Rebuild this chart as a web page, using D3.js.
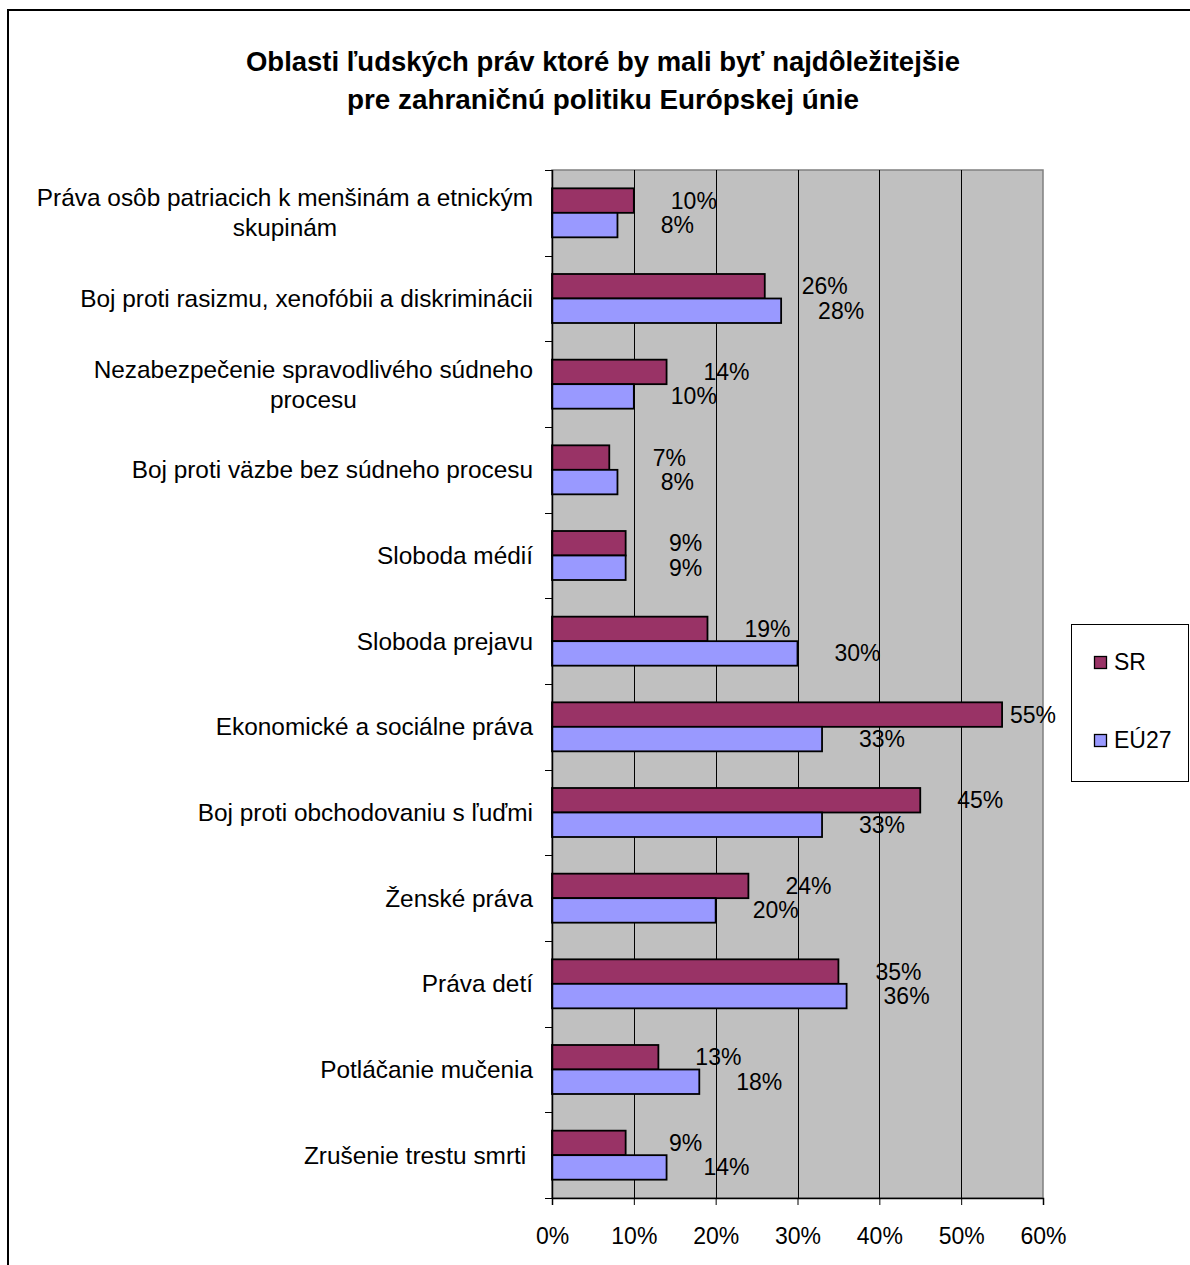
<!DOCTYPE html>
<html>
<head>
<meta charset="utf-8">
<script src="https://cdn.jsdelivr.net/npm/d3@7"></script>
<style>
  body { margin: 0; background: #fff; }
  svg text { font-family: "Liberation Sans", Arial, sans-serif; fill: #000; white-space: pre; }
</style>
</head>
<body>
<svg id="chart" width="1190" height="1265"></svg>
<script>
var categories = ["Práva osôb patriacich k menšinám a etnickým\nskupinám",
                  "Boj proti rasizmu, xenofóbii a diskriminácii",
                  "Nezabezpečenie spravodlivého súdneho\nprocesu",
                  "Boj proti väzbe bez súdneho procesu",
                  "Sloboda médií",
                  "Sloboda prejavu",
                  "Ekonomické a sociálne práva",
                  "Boj proti obchodovaniu s ľuďmi",
                  "Ženské práva",
                  "Práva detí",
                  "Potláčanie mučenia",
                  "Zrušenie trestu smrti "];
var seriesNames = ["SR", "EÚ27"];
var valuesSR = [10, 26, 14, 7, 9, 19, 55, 45, 24, 35, 13, 9];
var valuesEU = [8, 28, 10, 8, 9, 30, 33, 33, 20, 36, 18, 14];
var xTicks = [0, 10, 20, 30, 40, 50, 60];
var titleLines = ["Oblasti ľudských práv ktoré by mali byť najdôležitejšie",
                  "pre zahraničnú politiku Európskej únie"];

const colors = ["#993366", "#9999ff"],
    fontSize = 23,
    catFontSize = 24.4;

function drawChart() {
    var svg = d3.select("#chart");
    svg.selectAll("*").remove();

    var margin = {top: 170, left: 552, right: 147, bottom: 67},
        width = 1190 - margin.left - margin.right,
        height = 1265 - margin.top - margin.bottom;

    // outer chart frame (runs off the page on right and bottom)
    svg.append("rect")
        .attr("x", 8).attr("y", 10)
        .attr("width", 1300).attr("height", 1400)
        .attr("fill", "none")
        .attr("stroke", "#000")
        .attr("stroke-width", 2);

    svg.selectAll(".title")
        .data(titleLines)
        .enter().append("text")
        .attr("class", "title")
        .attr("x", 603)
        .attr("y", function(d, i) { return 71 + i * 38; })
        .attr("text-anchor", "middle")
        .attr("font-size", 27)
        .attr("font-weight", "bold")
        .attr("textLength", function(d, i) { return i == 0 ? 714 : 512; })
        .attr("lengthAdjust", "spacingAndGlyphs")
        .text(function(d) { return d; });

    var xScale = d3.scaleLinear().domain([0, 60]).range([0, width]),
        yScale = d3.scaleBand().domain(categories).range([0, height])
            .paddingInner(0.428).paddingOuter(0.214),
        ySub = d3.scaleBand().domain(seriesNames).range([0, yScale.bandwidth()]);

    var g = svg.append("g")
        .attr("transform", "translate(" + margin.left + "," + margin.top + ")");

    // plot area
    g.append("rect")
        .attr("width", width).attr("height", height)
        .attr("fill", "#c0c0c0")
        .attr("stroke", "#808080")
        .attr("stroke-width", 1.5);

    g.selectAll(".grid")
        .data(xTicks.slice(1, -1))
        .enter().append("line")
        .attr("class", "grid")
        .attr("x1", function(d) { return Math.round(xScale(d)) + 0.5; })
        .attr("x2", function(d) { return Math.round(xScale(d)) + 0.5; })
        .attr("y1", 0).attr("y2", height)
        .attr("stroke", "#000")
        .attr("stroke-width", 1);

    var rows = categories.map(function(c, i) {
        return {cat: c, values: [valuesSR[i], valuesEU[i]]};
    });

    var row = g.selectAll(".row")
        .data(rows)
        .enter().append("g")
        .attr("class", "row")
        .attr("transform", function(d) { return "translate(0," + yScale(d.cat) + ")"; });

    var bar = row.selectAll(".bar")
        .data(function(d) {
            return d.values.map(function(v, j) { return {series: seriesNames[j], value: v, j: j}; });
        })
        .enter();

    bar.append("rect")
        .attr("class", "bar")
        .attr("x", 0)
        .attr("y", function(d) { return ySub(d.series); })
        .attr("width", function(d) { return xScale(d.value); })
        .attr("height", ySub.bandwidth())
        .attr("fill", function(d) { return colors[d.j]; })
        .attr("stroke", "#000")
        .attr("stroke-width", 1.8);

    // value labels sit a little right of the bar end, kept inside the frame
    bar.append("text")
        .attr("x", function(d) { return Math.min(xScale(d.value) + 60, width - 10); })
        .attr("y", function(d) { return ySub(d.series) + ySub.bandwidth() / 2; })
        .attr("dy", "0.35em")
        .attr("text-anchor", "middle")
        .attr("font-size", fontSize)
        .text(function(d) { return d.value + "%"; });

    // category labels
    var step = yScale.step();
    g.selectAll(".cat")
        .data(categories)
        .enter().append("text")
        .attr("class", "cat")
        .attr("font-size", catFontSize)
        .each(function(d) {
            var lines = d.split("\n"),
                t = d3.select(this),
                cy = yScale(d) + yScale.bandwidth() / 2;
            if (lines.length == 1) {
                t.attr("x", -19).attr("y", cy).attr("dy", "0.35em")
                    .attr("text-anchor", "end").text(d);
            } else {
                lines.forEach(function(l, k) {
                    t.append("tspan")
                        .attr("y", cy + (k - (lines.length - 1) / 2) * 30)
                        .attr("dy", "0.35em")
                        .attr("text-anchor", "middle")
                        .text(l);
                });
                var first = t.select("tspan").node().getComputedTextLength();
                t.selectAll("tspan").attr("x", -19 - first / 2);
            }
        });

    // y axis with ticks between categories
    var yTicks = d3.range(categories.length + 1).map(function(i) { return i * step; });
    g.append("line")
        .attr("x1", 0.5).attr("x2", 0.5)
        .attr("y1", 0).attr("y2", height)
        .attr("stroke", "#000").attr("stroke-width", 1.5);
    g.selectAll(".ytick")
        .data(yTicks)
        .enter().append("line")
        .attr("class", "ytick")
        .attr("x1", -7).attr("x2", 0)
        .attr("y1", function(d) { return Math.round(d) + 0.5; })
        .attr("y2", function(d) { return Math.round(d) + 0.5; })
        .attr("stroke", "#000").attr("stroke-width", 1);

    // x axis
    var xAxis = g.append("g")
        .attr("transform", "translate(0," + height + ")")
        .call(d3.axisBottom(xScale)
            .tickValues(xTicks)
            .tickSize(7)
            .tickFormat(function(d) { return d + "%"; }));
    xAxis.select(".domain").attr("stroke", "#000").attr("stroke-width", 1.5);
    xAxis.selectAll(".tick line").attr("stroke", "#000");
    xAxis.selectAll(".tick text")
        .attr("font-size", fontSize)
        .attr("font-family", "Liberation Sans, Arial, sans-serif")
        .attr("y", 38)
        .attr("dy", "0.35em");

    // legend
    var legend = svg.append("g").attr("transform", "translate(1071,624)");
    legend.append("rect")
        .attr("x", 0.5).attr("y", 0.5)
        .attr("width", 117).attr("height", 157)
        .attr("fill", "#fff")
        .attr("stroke", "#000");
    var item = legend.selectAll(".item")
        .data(seriesNames)
        .enter().append("g")
        .attr("class", "item")
        .attr("transform", function(d, i) { return "translate(23," + (38 + i * 78) + ")"; });
    item.append("rect")
        .attr("x", 0.5).attr("y", -5.5)
        .attr("width", 12).attr("height", 12)
        .attr("fill", function(d, i) { return colors[i]; })
        .attr("stroke", "#000")
        .attr("stroke-width", 1.3);
    item.append("text")
        .attr("x", 20)
        .attr("y", 0)
        .attr("dy", "0.35em")
        .attr("font-size", fontSize)
        .text(function(d) { return d; });
}

drawChart();
</script>
</body>
</html>
